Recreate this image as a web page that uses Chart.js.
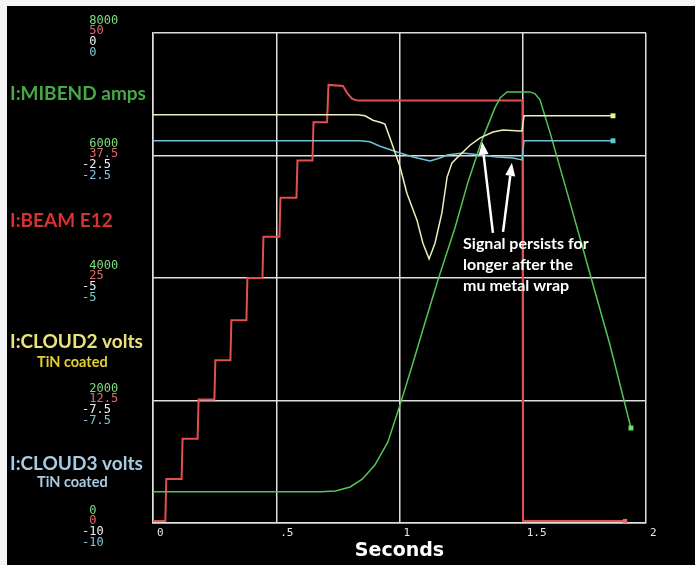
<!DOCTYPE html>
<html>
<head>
<meta charset="utf-8">
<script src="https://cdn.jsdelivr.net/npm/chart.js@4/dist/chart.umd.min.js"></script>
<style>
  html, body { margin: 0; padding: 0; background: #000; }
  #wrap { width: 695px; height: 565px; position: relative; background: #000; }
  canvas { display: block; }
</style>
</head>
<body>
<div id="wrap"><canvas id="c" width="695" height="565"></canvas></div>
<script>
// ---- time axis (seconds) ----
const timeTicks = [0, 0.5, 1, 1.5, 2];
const timeTickLabels = ['0', '.5', '1', '1.5', '2'];

// ---- tick labels of the four stacked vertical axes (bottom to top) ----
const mibendTickLabels = ['0', '2000', '4000', '6000', '8000'];
const beamTickLabels   = ['0', '12.5', '25', '37.5', '50'];
const cloud2TickLabels = ['-10', '-7.5', '-5', '-2.5', '0'];
const cloud3TickLabels = ['-10', '-7.5', '-5', '-2.5', '0'];

// ---- I:MIBEND amps ----
const mibendT = [0, 0.68, 0.74, 0.80, 0.85, 0.90, 0.953, 1.002, 1.051, 1.103, 1.156, 1.225, 1.278, 1.335, 1.387, 1.408, 1.436, 1.529, 1.550, 1.570, 1.611, 1.692, 1.773, 1.854, 1.939];
const mibendA = [511, 511, 523, 588, 719, 947, 1323, 1927, 2564, 3266, 3968, 4817, 5569, 6255, 6777, 6941, 7038, 7038, 7006, 6908, 6369, 5226, 4066, 2907, 1551];

// ---- I:BEAM E12 ----
const beamT = [0, 0.050, 0.054, 0.116, 0.120, 0.181, 0.185, 0.249, 0.253, 0.314, 0.318, 0.379, 0.383, 0.444, 0.448, 0.513, 0.517, 0.582, 0.586, 0.647, 0.651, 0.706, 0.712, 0.771, 0.787, 0.807, 0.828, 1.499, 1.501, 1.915];
const beamE12 = [0.2, 0.2, 4.5, 4.5, 8.6, 8.6, 12.6, 12.6, 16.6, 16.6, 20.7, 20.7, 25.0, 25.0, 29.2, 29.2, 33.2, 33.2, 37.0, 37.0, 40.9, 40.9, 44.7, 44.6, 43.9, 43.3, 43.1, 43.1, 0.2, 0.2];

// ---- I:CLOUD2 volts (TiN coated) ----
const cloud2T = [0, 0.83, 0.86, 0.892, 0.921, 0.941, 0.961, 1.002, 1.030, 1.071, 1.095, 1.120, 1.144, 1.172, 1.193, 1.213, 1.245, 1.286, 1.327, 1.379, 1.420, 1.489, 1.497, 1.505, 1.866];
const cloud2V = [-1.67, -1.67, -1.69, -1.78, -1.82, -1.86, -2.14, -2.73, -3.27, -3.82, -4.29, -4.61, -4.29, -3.67, -2.94, -2.65, -2.49, -2.29, -2.14, -2.02, -1.98, -2.00, -2.00, -1.69, -1.69];

// ---- I:CLOUD3 volts (TiN coated) ----
const cloud3T = [0, 0.84, 0.88, 0.921, 0.990, 1.055, 1.124, 1.164, 1.193, 1.258, 1.327, 1.396, 1.460, 1.497, 1.505, 1.866];
const cloud3V = [-2.20, -2.20, -2.22, -2.31, -2.43, -2.53, -2.61, -2.55, -2.49, -2.45, -2.49, -2.53, -2.55, -2.59, -2.20, -2.20];

// ---- note with two arrows (seconds, CLOUD2 volts) ----
const noteLines = ['Signal persists for', 'longer after the', 'mu metal wrap'];
const noteAnchor = { t: 1.258, v: -4.41 };
const arrows = [
  { fromT: 1.379, fromV: -4.08, toT: 1.335, toV: -2.22 },
  { fromT: 1.420, fromV: -4.06, toT: 1.456, toV: -2.65 }
];

const COL = {
  mibend: '#55c455', beam: '#e34e4e', cloud2: '#eeeebb', cloud3: '#6fc3d3',
  grid: '#dedede'
};

const toXY = (ts, vs) => ts.map((t, i) => ({ x: t, y: vs[i] }));
const endMarker = (n, r) => (ctx) => (ctx.dataIndex === n - 1 ? r : 0);

// sign column: values share a left edge, minus signs hang one column to the left
const fmtTick = (s) => (s.startsWith('-') ? s : ' ' + s);

// all four value axes sit on the left edge of the plot; their labels are
// stacked in a small block next to each grid line
function sideAxis(min, max, step, labels, color, offset, showGrid) {
  return {
    type: 'linear', position: 'left', min: min, max: max,
    afterFit: (s) => { s.width = 0; },
    grid: { display: showGrid, color: COL.grid, lineWidth: 1.5, drawTicks: false },
    border: { display: showGrid, color: COL.grid, width: 1.5 },
    ticks: {
      stepSize: step, autoSkip: false, mirror: true, padding: -71, labelOffset: offset,
      color: color, font: { family: 'DejaVu Sans Mono', size: 12 },
      callback: (v, i) => fmtTick(labels[i])
    }
  };
}

// thin light strip along the top and left edges of the picture
const frame = {
  id: 'frame',
  beforeDraw(chart) {
    const ctx = chart.ctx;
    ctx.save();
    ctx.fillStyle = '#f4f4f4';
    ctx.fillRect(0, 0, chart.width, 6);
    ctx.fillRect(0, 0, 7, chart.height);
    ctx.restore();
  }
};

const overlay = {
  id: 'overlay',
  afterDraw(chart) {
    const ctx = chart.ctx;
    const xs = chart.scales.x, ys = chart.scales.yCloud2;
    ctx.save();
    // channel names on the left
    const names = [
      { text: 'I:MIBEND amps', color: '#46a846', size: 19, x: 10, y: 100 },
      { text: 'I:BEAM E12', color: '#d63232', size: 19, x: 10, y: 227 },
      { text: 'I:CLOUD2 volts', color: '#ece27a', size: 19, x: 10, y: 348 },
      { text: 'TiN coated', color: '#e6cf2c', size: 14.5, x: 37, y: 367 },
      { text: 'I:CLOUD3 volts', color: '#a9cbe2', size: 19, x: 10, y: 470 },
      { text: 'TiN coated', color: '#a9cbe2', size: 14.5, x: 37, y: 487 }
    ];
    ctx.textBaseline = 'alphabetic';
    ctx.textAlign = 'left';
    names.forEach(n => {
      ctx.font = 'bold ' + n.size + 'px Lato';
      ctx.fillStyle = n.color;
      ctx.fillText(n.text, n.x, n.y);
    });

    // note text
    ctx.font = 'bold 16px Lato';
    ctx.fillStyle = '#ffffff';
    const nx = xs.getPixelForValue(noteAnchor.t);
    const ny = ys.getPixelForValue(noteAnchor.v);
    noteLines.forEach((l, i) => ctx.fillText(l, nx, ny + i * 21));

    // arrows
    ctx.strokeStyle = '#ffffff';
    ctx.fillStyle = '#ffffff';
    ctx.lineWidth = 2.5;
    arrows.forEach(a => {
      const x0 = xs.getPixelForValue(a.fromT), y0 = ys.getPixelForValue(a.fromV);
      const x1 = xs.getPixelForValue(a.toT), y1 = ys.getPixelForValue(a.toV);
      const ang = Math.atan2(y1 - y0, x1 - x0);
      const head = 13, half = 5;
      const bx = x1 - head * Math.cos(ang), by = y1 - head * Math.sin(ang);
      ctx.beginPath();
      ctx.moveTo(x0, y0);
      ctx.lineTo(bx, by);
      ctx.stroke();
      ctx.beginPath();
      ctx.moveTo(x1, y1);
      ctx.lineTo(bx + half * Math.sin(ang), by - half * Math.cos(ang));
      ctx.lineTo(bx - half * Math.sin(ang), by + half * Math.cos(ang));
      ctx.closePath();
      ctx.fill();
    });
    ctx.restore();
  }
};

new Chart(document.getElementById('c'), {
  type: 'line',
  data: {
    datasets: [
      {
        label: 'I:CLOUD2 volts', yAxisID: 'yCloud2', data: toXY(cloud2T, cloud2V),
        borderColor: COL.cloud2, borderWidth: 1.5, tension: 0,
        pointStyle: 'rect', pointRadius: endMarker(cloud2T.length, 3.5),
        pointBackgroundColor: '#eeee88', pointBorderWidth: 0
      },
      {
        label: 'I:CLOUD3 volts', yAxisID: 'yCloud3', data: toXY(cloud3T, cloud3V),
        borderColor: COL.cloud3, borderWidth: 1.5, tension: 0,
        pointStyle: 'rect', pointRadius: endMarker(cloud3T.length, 3.5),
        pointBackgroundColor: '#5fc8d4', pointBorderWidth: 0
      },
      {
        label: 'I:MIBEND amps', yAxisID: 'yMibend', data: toXY(mibendT, mibendA),
        borderColor: COL.mibend, borderWidth: 1.5, tension: 0,
        pointStyle: 'rect', pointRadius: endMarker(mibendT.length, 3.5),
        pointBackgroundColor: '#66e066', pointBorderWidth: 0
      },
      {
        label: 'I:BEAM E12', yAxisID: 'yBeam', data: toXY(beamT, beamE12),
        borderColor: COL.beam, borderWidth: 2, tension: 0,
        pointStyle: 'rect', pointRadius: endMarker(beamT.length, 3),
        pointBackgroundColor: '#e07070', pointBorderWidth: 0
      }
    ]
  },
  options: {
    responsive: false,
    animation: false,
    events: [],
    layout: { padding: { left: 153, top: 33, right: 49, bottom: 0 } },
    plugins: { legend: { display: false }, tooltip: { enabled: false } },
    scales: {
      x: {
        type: 'linear', min: 0, max: 2,
        afterFit: (s) => { s.height = 42; },
        afterBuildTicks: (s) => { s.ticks = timeTicks.map(v => ({ value: v })); },
        grid: { color: COL.grid, lineWidth: 1.5, drawTicks: false },
        border: { color: COL.grid, width: 1.5 },
        ticks: {
          align: 'start', labelOffset: 4, padding: 4, autoSkip: false, maxRotation: 0,
          color: '#e8e8e8', font: { family: 'DejaVu Sans Mono', size: 11 },
          callback: (v, i) => timeTickLabels[i]
        },
        title: {
          display: true, text: 'Seconds', color: '#ffffff',
          font: { family: 'DejaVu Sans', size: 19, weight: 'bold' },
          padding: { top: 0, bottom: 3 }
        }
      },
      yMibend: sideAxis(0, 8000, 2000, mibendTickLabels, '#7fdc7f', -12, true),
      yBeam:   sideAxis(0, 50, 12.5, beamTickLabels, '#e36a6a', -2, false),
      yCloud2: sideAxis(-10, 0, 2.5, cloud2TickLabels, '#f2f2f2', 9, false),
      yCloud3: sideAxis(-10, 0, 2.5, cloud3TickLabels, '#7cc8d8', 20, false)
    }
  },
  plugins: [frame, overlay]
});
</script>
</body>
</html>
